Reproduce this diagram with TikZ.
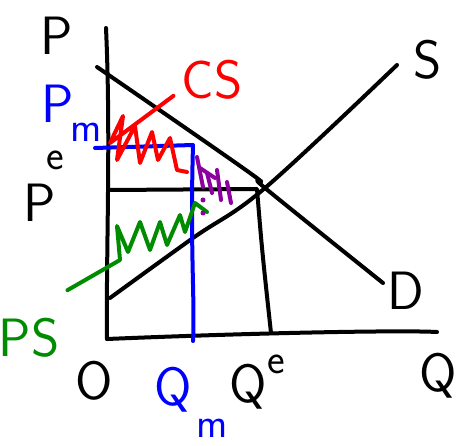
\documentclass[tikz,border=0pt]{standalone}
\usepackage{tikz}
\usetikzlibrary{calc, positioning}

\definecolor{csred}{RGB}{255,0,0}
\definecolor{psgreen}{RGB}{0,140,0}
\definecolor{mblue}{RGB}{0,0,255}
\definecolor{dwlpurple}{RGB}{140,0,160}

\begin{document}
\begin{tikzpicture}[x=1pt, y=-1pt, line cap=round, line join=round,
    pen/.style={line width=4pt},
    lab/.style={inner sep=0pt, font=\fontsize{54}{54}\sffamily},
    small/.style={inner sep=0pt, font=\fontsize{42}{42}\sffamily}]
    \useasboundingbox (0,0) rectangle (458,446);

    % axes
    \coordinate (ytop) at (106,28);
    \coordinate (origin) at (107,339);
    \coordinate (xend) at (437,332);
    \draw [pen] (ytop) .. controls (111,140) and (106,250) .. (origin);
    \draw [pen] (origin) .. controls (250,333) and (400,330) .. (xend);

    % demand and supply
    \coordinate (d0) at (97,67);
    \coordinate (d1) at (383,283);
    \coordinate (s0) at (110,298);
    \coordinate (s1) at (397,65);
    \coordinate (eq) at (265,188);
    \draw [pen] plot [smooth, tension=0.6] coordinates {(d0) (250,173) (eq) (d1)};
    \draw [pen] plot [smooth, tension=0.6] coordinates {(s0) (193,238) (eq) (s1)};

    % competitive price and quantity
    \coordinate (pe) at (110,190);
    \coordinate (ecorner) at (257,189);
    \coordinate (qe) at (271,333);
    \draw [pen] (pe) -- (ecorner) .. controls (262,250) .. (qe);

    % monopoly price and quantity
    \coordinate (pm) at (95,148);
    \coordinate (mcorner) at (193,145);
    \coordinate (qm) at (193,341);
    \draw [pen, mblue] (pm) -- (mcorner) .. controls (190,250) and (195,300) .. (qm);

    % labels
    \node [lab] (plab) at (57,36) {P};
    \node [lab] (pelab) at (40,203) {P};
    \node [small] (pesup) at (55,160) {e};
    \node [lab, mblue] (pmlab) at (58,104) {P};
    \node [small, mblue] (pmsub) at (86,132) {m};
    \node [lab] (olab) at (94,381) {O};
    \node [lab, mblue] (qmlab) at (173,390) {Q};
    \node [small, mblue] (qmsub) at (212,428) {m};
    \node [lab] (qelab) at (248,387) {Q};
    \node [small] (qesup) at (276,364) {e};
    \node [lab] (qlab) at (438,376) {Q};
    \node [lab] (slab) at (428,60) {S};
    \node [lab] (dlab) at (406,291) {D};
    \node [lab, csred] (cslab) at (212,80) {CS};
    \node [lab, psgreen] (pslab) at (29,338) {PS};

    % consumer surplus
    \coordinate (cstip) at (110,143);
    \draw [pen, csred] ($(cslab.south west)+(-8,-4)$) -- (cstip)
        -- (123,116) -- (117,160) -- (135,126) -- (140,163) -- (152,132)
        -- (158,160) -- (170,138) -- (177,170) -- (187,172);

    % producer surplus
    \coordinate (pstip) at (120,260);
    \draw [pen, psgreen] ($(pslab.north east)+(8,-28)$) -- (pstip)
        -- (117,226) -- (128,252) -- (140,222) -- (150,250) -- (160,222)
        -- (167,245) -- (180,215) -- (185,232) -- (195,203) -- (207,212);

    % deadweight loss
    \foreach \xa/\ya/\xb/\yb in {197/157/203/187, 200/168/215/178, 207/173/212/193,
        217/170/221/200, 227/182/231/203}{
        \draw [pen, dwlpurple] (\xa,\ya) -- (\xb,\yb);
    }
    \foreach \yd in {200,213}{
        \fill [dwlpurple] (203,\yd) circle (2.5);
    }
\end{tikzpicture}
\end{document}
